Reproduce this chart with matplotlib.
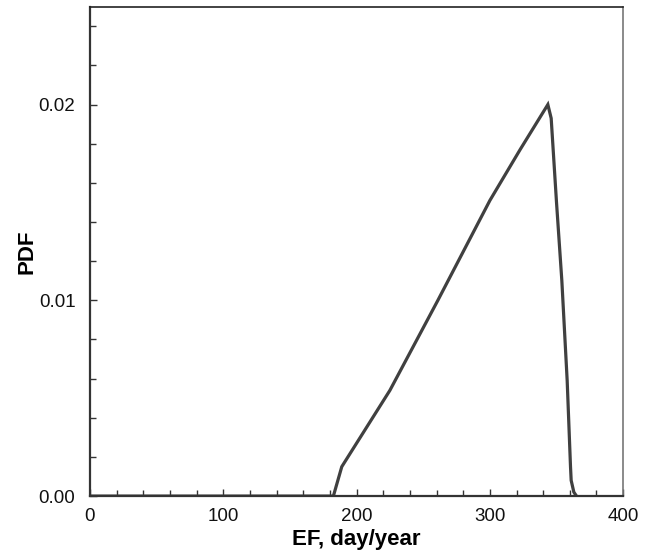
import matplotlib
matplotlib.use('Agg')
import matplotlib.pyplot as plt
from matplotlib.ticker import MultipleLocator, FormatStrFormatter

# - Data (EF in day/year, PDF)
ef_values = [0, 182.6, 188.9, 225.0, 261.0, 300.0, 322.7, 343.5,
             346.0, 350.0, 354.0, 358.0, 360.5, 361.0, 363.0, 365.0]
pdf_values = [0.0, 0.0, 0.0015, 0.0054, 0.0100, 0.0151, 0.0177, 0.0200,
              0.0193, 0.0150, 0.0110, 0.0059, 0.0015, 0.0008, 0.0002, 0.0]
x_ticks = [0, 100, 200, 300, 400]
y_ticks = [0.00, 0.01, 0.02]

plt.rcParams['font.family'] = ['Liberation Sans', 'DejaVu Sans']

fig = plt.figure(figsize=(6.53, 5.58), dpi=100)
ax = fig.add_axes([0.1378, 0.111, 0.8165, 0.877])

ax.plot(ef_values, pdf_values, color='#404040', lw=2.3, solid_joinstyle='miter')

ax.set_xlim(0, 400)
ax.set_ylim(0, 0.025)
ax.set_xticks(x_ticks)
ax.set_yticks(y_ticks)
ax.xaxis.set_minor_locator(MultipleLocator(20))
ax.yaxis.set_minor_locator(MultipleLocator(0.002))
ax.yaxis.set_major_formatter(FormatStrFormatter('%.2f'))

ax.tick_params(axis='both', which='both', direction='in', top=False, right=False,
               labelsize=13.5, width=1, color='#333333', labelcolor='#111111')
ax.tick_params(which='major', length=5)
ax.tick_params(which='minor', length=4)
ax.tick_params(axis='x', which='major', pad=8.5)
ax.tick_params(axis='y', which='major', pad=10.5)

for side in ['left', 'bottom']:
    ax.spines[side].set_linewidth(1.6)
    ax.spines[side].set_color('#333333')
ax.spines['top'].set_linewidth(1.2)
ax.spines['top'].set_color('#222222')
ax.spines['right'].set_linewidth(1.2)
ax.spines['right'].set_color('#777777')

ax.set_xlabel('EF, day/year', fontsize=16, fontweight='bold', labelpad=3)
ax.set_ylabel('PDF', fontsize=16, fontweight='bold', labelpad=1)

plt.savefig('out.png', dpi=100)
plt.close()
